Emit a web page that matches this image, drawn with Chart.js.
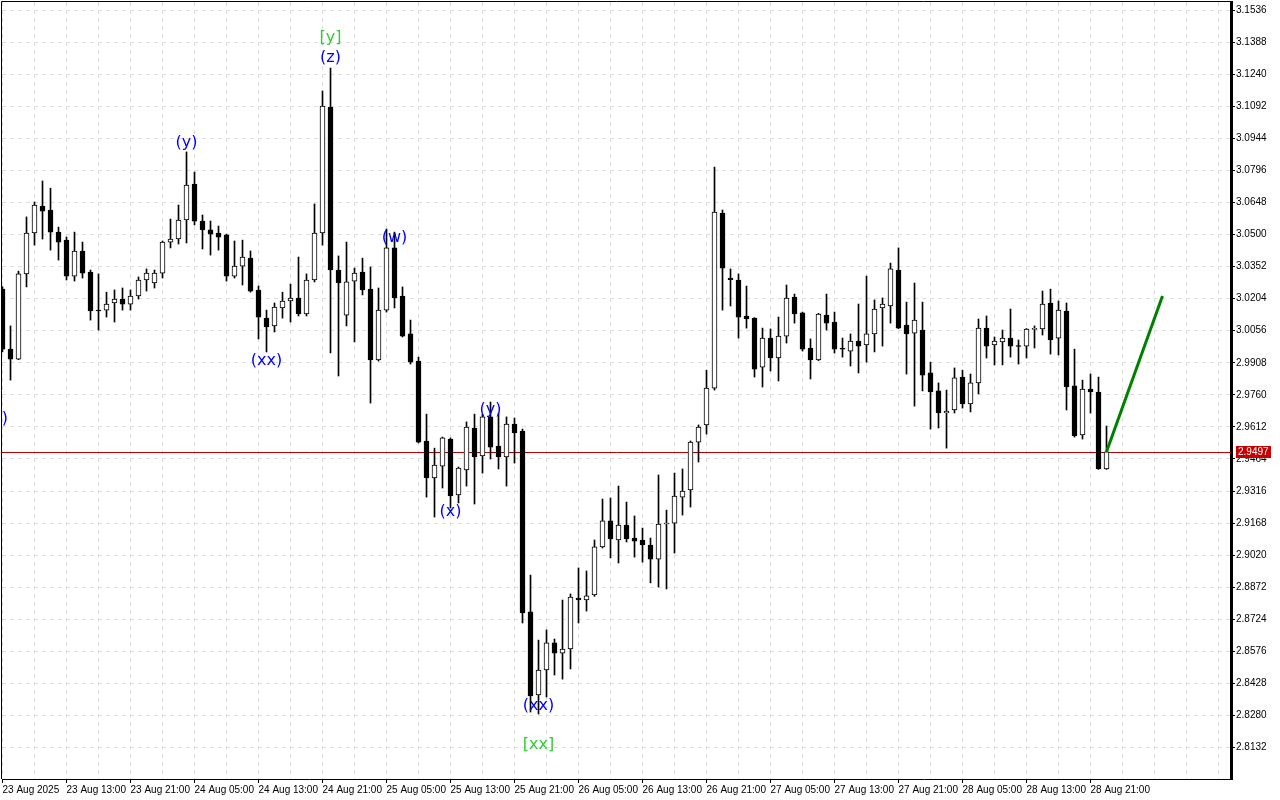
<!DOCTYPE html>
<html>
<head>
<meta charset="utf-8">
<title>H1 candles</title>
<script src="https://cdn.jsdelivr.net/npm/chart.js@4.4.1/dist/chart.umd.min.js"></script>
<style>
  html, body { margin: 0; padding: 0; background: #ffffff; }
  #wrap { width: 1280px; height: 800px; }
</style>
</head>
<body>
<div id="wrap"><canvas id="priceChart" width="1280" height="800"></canvas></div>
<script>
// H1 bars, bar 0 = 23 Aug 05:00
const opens = [
    3.0248, 2.9971, 2.9925, 3.0318, 3.0507, 3.0631, 3.0613, 3.0511, 3.0474, 3.0308,
    3.0424, 3.0327, 3.0151, 3.0151, 3.0184, 3.0202, 3.0179, 3.0216, 3.0290, 3.0276,
    3.0322, 3.0465, 3.0479, 3.0567, 3.0733, 3.0562, 3.0521, 3.0507, 3.0498, 3.0308,
    3.0354, 3.0391, 3.0244, 3.0114, 3.0078, 3.0161, 3.0193, 3.0207, 3.0133, 3.0290,
    3.0507, 3.1088, 3.0336, 3.0128, 3.0285, 3.0327, 3.0248, 2.9921, 3.0151, 3.0438,
    3.0216, 3.0041, 2.9916, 2.9547, 2.9376, 2.9431, 2.9556, 2.9298, 2.9413, 2.9607,
    2.9478, 2.9658, 2.9524, 2.9473, 2.9625, 2.9593, 2.8758, 2.8375, 2.8490, 2.8615,
    2.8568, 2.8587, 2.8822, 2.8813, 2.8836, 2.9058, 2.9178, 2.9090, 2.9159, 2.9099,
    2.9090, 2.9067, 2.9002, 2.9164, 2.9168, 2.9288, 2.9321, 2.9542, 2.9621, 2.9791,
    3.0599, 3.0299, 3.0290, 3.0124, 3.0114, 2.9888, 3.0022, 2.9930, 3.0031, 3.0211,
    3.0138, 2.9976, 2.9921, 3.0128, 3.0096, 2.9976, 2.9962, 3.0008, 2.9990, 3.0041,
    3.0161, 3.0170, 3.0336, 3.0082, 3.0045, 3.0059, 2.9861, 2.9778, 2.9676, 2.9690,
    2.9842, 2.9718, 2.9815, 3.0068, 2.9990, 3.0004, 3.0022, 2.9985, 2.9985, 3.0062,
    3.0064, 3.0184, 3.0022, 3.0147, 2.9801, 2.9575, 2.9787, 2.9773, 2.9418
];
const highs = [
    3.0258, 3.0078, 3.0331, 3.0581, 3.0650, 3.0747, 3.0714, 3.0534, 3.0488, 3.0511,
    3.0465, 3.0336, 3.0318, 3.0234, 3.0244, 3.0253, 3.0244, 3.0304, 3.0341, 3.0336,
    3.0470, 3.0571, 3.0636, 3.0881, 3.0788, 3.0590, 3.0562, 3.0539, 3.0502, 3.0470,
    3.0474, 3.0424, 3.0262, 3.0151, 3.0184, 3.0234, 3.0271, 3.0396, 3.0318, 3.0641,
    3.1162, 3.1268, 3.0401, 3.0465, 3.0345, 3.0391, 3.0350, 3.0253, 3.0525, 3.0511,
    3.0258, 3.0105, 2.9934, 2.9671, 2.9514, 2.9565, 2.9561, 2.9427, 2.9635, 2.9671,
    2.9671, 2.9727, 2.9676, 2.9658, 2.9653, 2.9602, 2.8928, 2.8628, 2.8675, 2.8633,
    2.8813, 2.8841, 2.8961, 2.8947, 2.9090, 2.9279, 2.9284, 2.9339, 2.9265, 2.9201,
    2.9145, 2.9099, 2.9390, 2.9228, 2.9399, 2.9418, 2.9547, 2.9621, 2.9874, 3.0811,
    3.0613, 3.0341, 3.0318, 3.0262, 3.0116, 3.0068, 3.0064, 3.0119, 3.0267, 3.0225,
    3.0142, 3.0018, 3.0136, 3.0225, 3.0142, 3.0022, 3.0041, 3.0179, 3.0308, 3.0198,
    3.0207, 3.0368, 3.0438, 3.0188, 3.0276, 3.0188, 2.9911, 2.9815, 2.9782, 2.9884,
    2.9874, 2.9856, 3.0110, 3.0124, 3.0027, 3.0059, 3.0156, 3.0013, 3.0066, 3.0078,
    3.0239, 3.0248, 3.0193, 3.0184, 2.9971, 2.9828, 2.9856, 2.9842, 2.9616
];
const lows = [
    2.9958, 2.9828, 2.9922, 3.0258, 3.0451, 3.0479, 3.0428, 3.0382, 3.0290, 3.0285,
    3.0299, 3.0105, 3.0059, 3.0119, 3.0096, 3.0151, 3.0151, 3.0202, 3.0239, 3.0253,
    3.0299, 3.0438, 3.0456, 3.0461, 3.0544, 3.0433, 3.0405, 3.0428, 3.0285, 3.0299,
    3.0267, 3.0234, 3.0018, 2.9958, 3.0050, 3.0114, 3.0096, 3.0124, 3.0124, 3.0281,
    3.0451, 2.9953, 2.9847, 3.0078, 3.0004, 3.0221, 2.9722, 2.9916, 3.0142, 3.0161,
    3.0027, 2.9902, 2.9538, 2.9288, 2.9196, 2.9330, 2.9238, 2.9261, 2.9339, 2.9256,
    2.9399, 2.9464, 2.9418, 2.9339, 2.9445, 2.8707, 2.8296, 2.8287, 2.8365, 2.8467,
    2.8448, 2.8495, 2.8707, 2.8762, 2.8830, 2.9053, 2.9007, 2.8984, 2.9081, 2.9011,
    2.8988, 2.8892, 2.8873, 2.8864, 2.9030, 2.9205, 2.9242, 2.9450, 2.9579, 2.9782,
    3.0151, 3.0170, 3.0022, 3.0068, 2.9842, 2.9796, 2.9870, 2.9824, 2.9999, 3.0091,
    2.9962, 2.9833, 2.9918, 3.0059, 2.9953, 2.9934, 2.9893, 2.9861, 2.9911, 2.9958,
    2.9985, 3.0091, 3.0066, 2.9856, 2.9708, 2.9778, 2.9602, 2.9607, 2.9514, 2.9676,
    2.9699, 2.9681, 2.9764, 2.9930, 2.9898, 2.9898, 2.9934, 2.9902, 2.9930, 2.9976,
    3.0036, 2.9948, 2.9944, 2.9690, 2.9565, 2.9556, 2.9676, 2.9416, 2.9416
];
const closes = [
    2.9971, 2.9925, 3.0318, 3.0507, 3.0636, 3.0608, 3.0511, 3.0465, 3.0308, 3.0424,
    3.0322, 3.0147, 3.0147, 3.0179, 3.0202, 3.0179, 3.0216, 3.0290, 3.0322, 3.0322,
    3.0465, 3.0479, 3.0567, 3.0728, 3.0562, 3.0521, 3.0502, 3.0488, 3.0308, 3.0354,
    3.0396, 3.0239, 3.0119, 3.0073, 3.0165, 3.0193, 3.0207, 3.0133, 3.0290, 3.0507,
    3.1093, 3.0336, 3.0276, 3.0281, 3.0322, 3.0244, 2.9921, 3.0151, 3.0438, 3.0207,
    3.0031, 2.9911, 2.9542, 2.9376, 2.9436, 2.9561, 2.9293, 2.9422, 2.9611, 2.9473,
    2.9658, 2.9519, 2.9473, 2.9625, 2.9584, 2.8753, 2.8370, 2.8490, 2.8615, 2.8568,
    2.8587, 2.8827, 2.8813, 2.8832, 2.9058, 2.9178, 2.9095, 2.9159, 2.9095, 2.9085,
    2.9067, 2.9002, 2.9164, 2.9168, 2.9293, 2.9316, 2.9542, 2.9611, 2.9791, 3.0604,
    3.0345, 3.0292, 3.0119, 3.0110, 2.9879, 3.0022, 2.9930, 3.0031, 3.0207, 3.0133,
    2.9971, 2.9921, 3.0133, 3.0091, 2.9971, 2.9971, 3.0008, 2.9985, 3.0041, 3.0156,
    3.0179, 3.0341, 3.0068, 3.0041, 3.0105, 2.9851, 2.9773, 2.9676, 2.9685, 2.9838,
    2.9718, 2.9815, 3.0068, 2.9985, 3.0008, 3.0022, 2.9985, 2.9983, 3.0064, 3.0064,
    3.0179, 3.0013, 3.0151, 2.9796, 2.9570, 2.9787, 2.9773, 2.9418, 2.9497
];

// time axis labels, one every 8 bars
const timeLabels = [
    '23 Aug 2025', '23 Aug 13:00', '23 Aug 21:00', '24 Aug 05:00', '24 Aug 13:00',
    '24 Aug 21:00', '25 Aug 05:00', '25 Aug 13:00', '25 Aug 21:00', '26 Aug 05:00',
    '26 Aug 13:00', '26 Aug 21:00', '27 Aug 05:00', '27 Aug 13:00', '27 Aug 21:00',
    '28 Aug 05:00', '28 Aug 13:00', '28 Aug 21:00'
];
const priceTicks = [
    3.1536, 3.1388, 3.1240, 3.1092, 3.0944, 3.0796, 3.0648, 3.0500, 3.0352, 3.0204,
    3.0056, 2.9908, 2.9760, 2.9612, 2.9464, 2.9316, 2.9168, 2.9020, 2.8872, 2.8724,
    2.8576, 2.8428, 2.8280, 2.8132
];

// wave marks: text, bar, price
const waveText = ['(x)', '(xx)', '(y)', '[y]', '(z)', '(w)', '(x)', '(y)', '(xx)', '[xx]'];
const waveBar = [-0.7, 33, 23, 41, 41, 49, 56, 61, 67, 67];
const wavePrice = [2.9648, 2.9916, 3.0922, 3.1407, 3.1314, 3.0484, 2.9219, 2.9690, 2.8324, 2.8144];

// projected move from the last close
const projBar = [138, 145];
const projPrice = [2.9497, 3.0216];

const BAR_PX = 8;

function noPad(scale) {
    scale.paddingTop = 0;
    scale.paddingBottom = 0;
    scale.paddingLeft = 0;
    scale.paddingRight = 0;
}

document.addEventListener('DOMContentLoaded', function () {
    const ctx = document.getElementById('priceChart');
    const idx = opens.map((_, i) => i);

    const wickData = idx.map(i => ({ x: i, y: [lows[i], highs[i]] }));
    const bodyData = idx.map(i => ({ x: i, y: [opens[i], closes[i]] }));
    const bodyFill = idx.map(i => closes[i] > opens[i] ? '#ffffff' : '#000000');
    const projData = projBar.map((b, k) => ({ x: b, y: projPrice[k] }));

    const overlay = {
        id: 'overlay',
        beforeDatasetsDraw(chart) {
            // bid line at last close
            const { ctx, chartArea, scales } = chart;
            const y = Math.round(scales.y.getPixelForValue(closes[closes.length - 1])) + 0.5;
            ctx.save();
            ctx.strokeStyle = '#b40000';
            ctx.lineWidth = 1;
            ctx.beginPath();
            ctx.moveTo(chartArea.left, y);
            ctx.lineTo(chartArea.right, y);
            ctx.stroke();
            ctx.restore();
        },
        afterDatasetsDraw(chart) {
            const { ctx, chartArea, scales } = chart;
            ctx.save();
            ctx.beginPath();
            ctx.rect(chartArea.left, chartArea.top, chartArea.right - chartArea.left, chartArea.bottom - chartArea.top);
            ctx.clip();
            ctx.font = '16px "DejaVu Sans"';
            ctx.textAlign = 'center';
            ctx.textBaseline = 'middle';
            waveText.forEach((t, k) => {
                ctx.fillStyle = t.startsWith('[') ? '#32cd32' : '#0000ff';
                ctx.fillText(t, scales.x.getPixelForValue(waveBar[k]), scales.y.getPixelForValue(wavePrice[k]));
            });
            ctx.restore();
        },
        afterDraw(chart) {
            const { ctx, chartArea, scales } = chart;
            ctx.save();
            // frame top + left
            ctx.strokeStyle = '#000000';
            ctx.lineWidth = 1;
            ctx.beginPath();
            ctx.moveTo(chartArea.left - 0.5, chartArea.bottom);
            ctx.lineTo(chartArea.left - 0.5, chartArea.top - 0.5);
            ctx.lineTo(chartArea.right, chartArea.top - 0.5);
            ctx.stroke();

            // last price tag
            const last = closes[closes.length - 1];
            const y = Math.round(scales.y.getPixelForValue(last));
            const txt = last.toFixed(4);
            ctx.font = '10px "Liberation Sans"';
            const w = Math.ceil(ctx.measureText(txt).width) + 4;
            const x0 = chartArea.right + 5;
            ctx.fillStyle = '#c80000';
            ctx.fillRect(x0, y - 6, w, 12);
            ctx.fillStyle = '#ffffff';
            ctx.textAlign = 'left';
            ctx.textBaseline = 'middle';
            ctx.fillText(txt, x0 + 2, y + 0.5);
            ctx.restore();
        }
    };

    new Chart(ctx, {
        type: 'bar',
        data: {
            datasets: [
                {
                    type: 'line',
                    data: projData,
                    borderColor: '#008000',
                    borderWidth: 3,
                    pointRadius: 0,
                    fill: false,
                    order: 0
                },
                {
                    type: 'bar',
                    data: bodyData,
                    backgroundColor: bodyFill,
                    borderColor: '#000000',
                    borderWidth: 1,
                    borderSkipped: false,
                    barThickness: 5,
                    minBarLength: 1,
                    grouped: false,
                    order: 1
                },
                {
                    type: 'bar',
                    data: wickData,
                    backgroundColor: '#000000',
                    borderWidth: 0,
                    barThickness: 1,
                    grouped: false,
                    order: 2
                }
            ]
        },
        options: {
            responsive: false,
            animation: false,
            devicePixelRatio: 1,
            layout: { padding: { left: 2, top: 2, right: 0, bottom: 0 } },
            plugins: {
                legend: { display: false },
                tooltip: { enabled: false }
            },
            scales: {
                x: {
                    type: 'linear',
                    offset: false,
                    min: -0.0625,
                    max: -0.0625 + 1229 / BAR_PX,
                    afterFit: function (scale) { scale.height = 21; noPad(scale); },
                    afterBuildTicks: function (scale) {
                        const t = [];
                        for (let v = 0; v <= scale.max; v += 4) t.push({ value: v });
                        scale.ticks = t;
                    },
                    grid: {
                        offset: false,
                        color: '#dedede',
                        lineWidth: 1,
                        drawTicks: true,
                        tickLength: 4,
                        tickBorderDash: [],
                        tickColor: function (c) {
                            return c.tick && c.tick.value % 8 === 0 && c.tick.value / 8 < timeLabels.length ? '#000000' : 'rgba(0,0,0,0)';
                        }
                    },
                    border: { display: true, color: '#000000', width: 1, dash: [4, 4] },
                    ticks: {
                        autoSkip: false,
                        maxRotation: 0,
                        align: 'start',
                        padding: 1,
                        color: '#000000',
                        font: { family: 'Liberation Sans', size: 10 },
                        callback: function (value) {
                            if (value % 8 !== 0) return '';
                            return timeLabels[value / 8] || '';
                        }
                    }
                },
                y: {
                    type: 'linear',
                    position: 'right',
                    min: 2.7987,
                    max: 3.1573,
                    afterFit: function (scale) { scale.width = 49; noPad(scale); },
                    afterBuildTicks: function (scale) {
                        scale.ticks = priceTicks.map(v => ({ value: v }));
                    },
                    grid: {
                        color: '#dedede',
                        lineWidth: 1,
                        drawTicks: true,
                        tickLength: 4,
                        tickBorderDash: [],
                        tickColor: '#000000'
                    },
                    border: { display: true, color: '#000000', width: 3, dash: [4, 4] },
                    ticks: {
                        padding: 1,
                        color: '#000000',
                        font: { family: 'Liberation Sans', size: 10 },
                        callback: function (value) { return Number(value).toFixed(4); }
                    }
                }
            }
        },
        plugins: [overlay]
    });
});
</script>
</body>
</html>
